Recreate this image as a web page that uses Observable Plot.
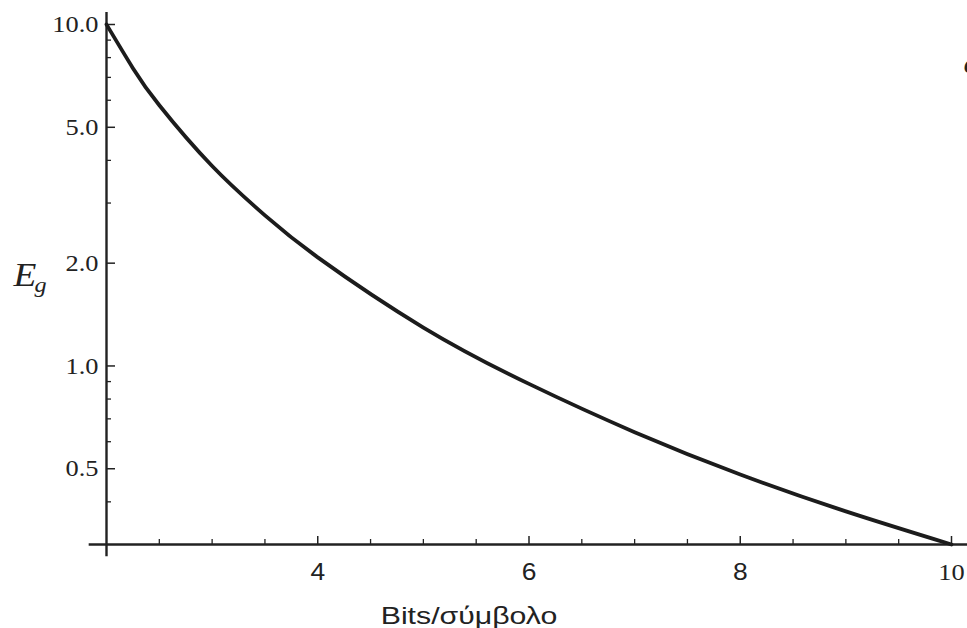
<!DOCTYPE html>
<html>
<head>
<meta charset="utf-8">
<script src="https://cdn.jsdelivr.net/npm/d3@7"></script>
<script src="https://cdn.jsdelivr.net/npm/@observablehq/plot@0.6"></script>
<style>
  html, body { margin: 0; padding: 0; background: #fff; }
</style>
</head>
<body>
<div id="chart"></div>
<script>
// Values: bits per symbol vs. E_g (log scale)
const bits = [2.0, 2.25, 2.5, 3.0, 3.5, 4.0, 5.0, 6.0, 7.0, 8.0, 9.0, 10.0];
const eg   = [10.0, 7.45, 5.80, 3.85, 2.76, 2.08, 1.296, 0.886, 0.640, 0.481, 0.375, 0.300];

const xMajor = [4, 6, 8];
const xEnd = [10];
const xMinor = [2.5, 3, 3.5, 4.5, 5, 5.5, 6.5, 7, 7.5, 8.5, 9, 9.5];
const yMajor = [0.5, 1, 2, 5, 10];
const yMinor = [0.4, 0.6, 0.7, 0.8, 0.9, 3, 4, 6, 7, 8, 9];

const xLabel = "Bits/σύμβολο";
const yLabelMain = "E";
const yLabelSub = "g";
const cornerGlyph = "c";

const data = bits.map((b, i) => ({bits: b, eg: eg[i]}));

const ink = "#222";
const serif = "'Liberation Serif', 'DejaVu Serif', serif";
const sans = "'Liberation Sans', Arial, sans-serif";

const plot = Plot.plot({
  width: 967,
  height: 628,
  marginLeft: 106,
  marginRight: 16,
  marginTop: 24,
  marginBottom: 84,
  style: {background: "#fff", color: ink, overflow: "visible"},
  x: {domain: [2, 10]},
  y: {type: "log", domain: [0.3, 10]},
  marks: [
    // axis lines
    Plot.ruleX([2], {y1: 0.276, y2: 10.84, stroke: ink, strokeWidth: 2.4}),
    Plot.ruleY([0.3], {x1: 1.836, x2: 10.25, stroke: ink, strokeWidth: 2.4}),
    // x ticks (inward)
    Plot.axisX({ticks: [...xMajor, ...xEnd], tickSize: -8, text: null, stroke: ink, strokeWidth: 1.5, label: null}),
    Plot.axisX({ticks: xMinor, tickSize: -5, text: null, stroke: ink, strokeWidth: 1.3, label: null}),
    Plot.axisX({ticks: xMajor, tickSize: 0, tickPadding: 18, fontSize: 24, fontFamily: sans, label: null, fill: ink}),
    Plot.axisX({ticks: xEnd, tickSize: 0, tickPadding: 18, fontSize: 24, fontFamily: serif, label: null, fill: ink}),
    // y ticks (inward)
    Plot.axisY({ticks: yMajor, tickSize: -9, text: null, stroke: ink, strokeWidth: 1.5, label: null}),
    Plot.axisY({ticks: yMinor, tickSize: -5, text: null, stroke: ink, strokeWidth: 1.3, label: null}),
    Plot.axisY({ticks: yMajor, tickSize: 0, tickPadding: 8, tickFormat: d3.format(".1f"), fontSize: 24, fontFamily: serif, label: null, fill: ink}),
    // curve
    Plot.line(data, {x: "bits", y: "eg", stroke: "#1c1c1c", strokeWidth: 3.8, curve: "natural"}),
    // axis labels
    Plot.text([xLabel], {frameAnchor: "bottom", dx: -60, dy: 79, lineAnchor: "bottom", fontSize: 24, fontFamily: sans, fill: ink}),
    Plot.text([yLabelMain], {frameAnchor: "left", dx: -93, dy: 1, textAnchor: "start", lineAnchor: "bottom", fontSize: 34, fontStyle: "italic", fontFamily: serif, fill: ink}),
    Plot.text([yLabelSub], {frameAnchor: "left", dx: -72, dy: 7, textAnchor: "start", lineAnchor: "bottom", fontSize: 22, fontStyle: "italic", fontFamily: serif, fill: ink}),
    Plot.text([cornerGlyph], {frameAnchor: "top-right", dx: 12, dy: 48, textAnchor: "start", lineAnchor: "bottom", fontSize: 30, fontStyle: "italic", fontFamily: serif, fill: ink})
  ]
});

document.getElementById("chart").appendChild(plot);

// horizontal stretch of the lettering as in the reference
plot.querySelectorAll("text").forEach(t => {
  const len = t.getComputedTextLength();
  const s = t.textContent === xLabel ? 1.26 : 1.1;
  if (len > 0) {
    t.setAttribute("textLength", (len * s).toFixed(1));
    t.setAttribute("lengthAdjust", "spacingAndGlyphs");
  }
});
</script>
</body>
</html>
